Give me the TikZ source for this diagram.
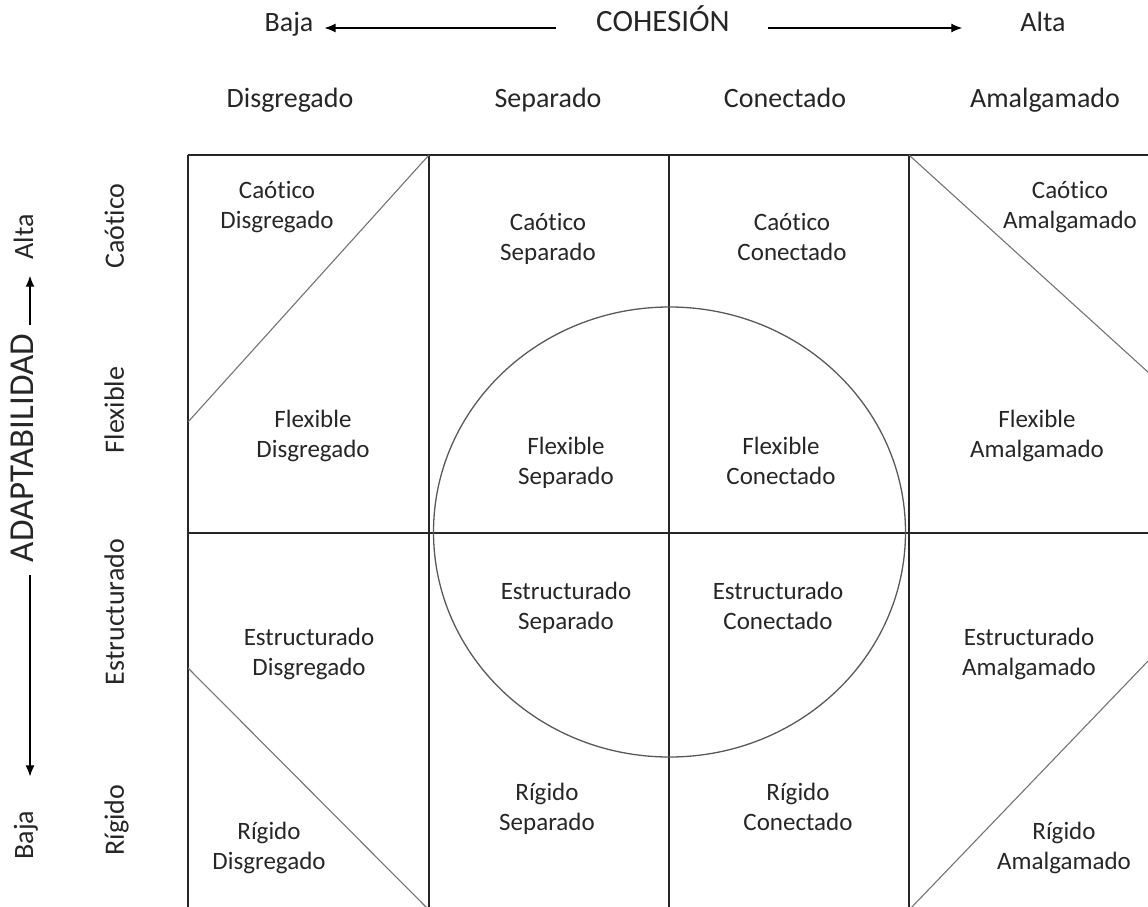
\documentclass[tikz,border=0pt]{standalone}
\usepackage{fontspec}
\setmainfont{Carlito}[Ligatures=NoCommon]
\usetikzlibrary{arrows.meta, positioning}

\begin{document}
\begin{tikzpicture}[
      x=1pt, y=-1pt,
      grid/.style={line width=1.8pt, draw=black!85},
      diag/.style={line width=1.1pt, draw=black!55},
      ring/.style={line width=1.3pt, draw=black!65},
      cell/.style={align=center, inner sep=0pt, text=black!85, font=\fontsize{25}{30}\selectfont,
        execute at begin node=\strut, execute at end node=\strut},
      head/.style={inner sep=0pt, text=black!85, font=\fontsize{28}{34}\selectfont,
        execute at begin node=\strut},
      axislabel/.style={inner sep=0pt, text=black!85, text height=0.64em, text depth=0pt, font=\fontsize{28}{34}\selectfont},
      axis/.style={line width=1.2pt, -{Latex[length=11pt, width=9pt]}}
    ]
    \useasboundingbox (0,0) rectangle (1148,907);
    \clip (0,0) rectangle (1148,907);

    % Cohesion axis
    \node[axislabel] (bajah) at (289,28) {Baja};
    \node[axislabel, font=\fontsize{31}{37}\selectfont] (cohesion) at (663,28) {COHESIÓN};
    \node[axislabel] (altah) at (1043,28) {Alta};
    \draw[axis, shorten <=40pt, shorten >=11pt] (cohesion.west) -- (bajah.east);
    \draw[axis, shorten <=38pt, shorten >=58pt] (cohesion.east) -- (altah.west);

    % Column heads
    \node[head] (hdis) at (290,101) {Disgregado};
    \node[head] (hsep) at (548,101) {Separado};
    \node[head] (hcon) at (785,101) {Conectado};
    \node[head] (hama) at (1045,101) {Amalgamado};

    % Adaptability axis
    \node[axislabel, rotate=90] (altav) at (30,237) {Alta};
    \node[axislabel, rotate=90, font=\fontsize{35}{42}\selectfont] (adapt) at (30,448) {ADAPTABILIDAD};
    \node[axislabel, rotate=90] (bajav) at (30,835) {Baja};
    \draw[axis, shorten <=9pt, shorten >=16pt] (adapt.east) -- (altav.west);
    \draw[axis, shorten <=13pt, shorten >=34pt] (adapt.west) -- (bajav.east);

    % Row heads
    \node[head, rotate=90] (rcao) at (117,226) {Caótico};
    \node[head, rotate=90] (rfle) at (117,410) {Flexible};
    \node[head, rotate=90] (rest) at (117,612) {Estructurado};
    \node[head, rotate=90] (rrig) at (117,820) {Rígido};

    % Grid
    \draw[grid] (188,155) -- (1150,155);
    \draw[grid] (188,533) -- (1150,533);
    \foreach \x in {188,429,669,909}
      \draw[grid] (\x,155) -- (\x,912);
    \draw[diag] (429,155) -- (188,422);
    \draw[diag] (188,668) -- (429,910);
    \draw[diag] (909,155) -- (1149,373);
    \draw[diag] (909,910) -- (1149,660);
    \draw[ring] (669.5,532) ellipse [x radius=236, y radius=225];

    % Cells
    \node[cell] (cdis) at (277,209) {Caótico\\Disgregado};
    \node[cell] (fdis) at (313,438) {Flexible\\Disgregado};
    \node[cell] (edis) at (309,656) {Estructurado\\Disgregado};
    \node[cell] (rdis) at (269,850) {Rígido\\Disgregado};
    \node[cell] (csep) at (548,241) {Caótico\\Separado};
    \node[cell] (fsep) at (566,465) {Flexible\\Separado};
    \node[cell] (esep) at (566,610) {Estructurado\\Separado};
    \node[cell] (rsep) at (547,811) {Rígido\\Separado};
    \node[cell] (ccon) at (792,241) {Caótico\\Conectado};
    \node[cell] (fcon) at (781,465) {Flexible\\Conectado};
    \node[cell] (econ) at (778,610) {Estructurado\\Conectado};
    \node[cell] (rcon) at (798,811) {Rígido\\Conectado};
    \node[cell] (cama) at (1070,209) {Caótico\\Amalgamado};
    \node[cell] (fama) at (1037,438) {Flexible\\Amalgamado};
    \node[cell] (eama) at (1029,656) {Estructurado\\Amalgamado};
    \node[cell] (rama) at (1064,850) {Rígido\\Amalgamado};
  \end{tikzpicture}
\end{document}
